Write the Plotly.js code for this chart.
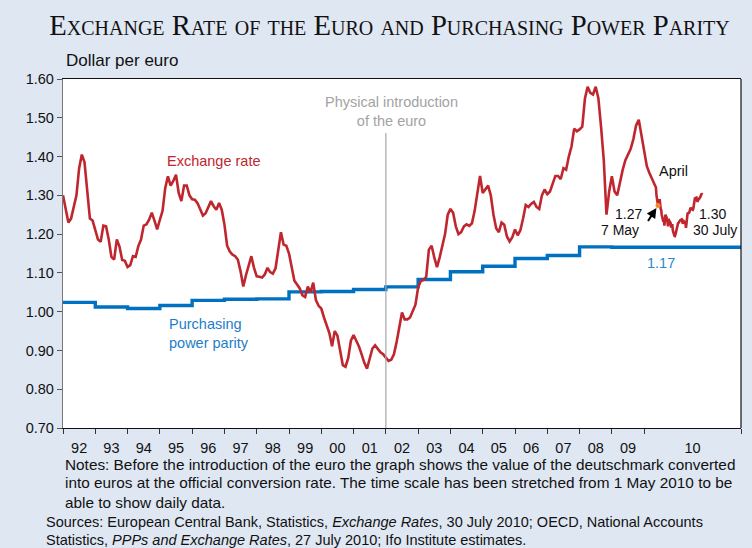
<!DOCTYPE html>
<html><head><meta charset="utf-8">
<script src="https://cdn.plot.ly/plotly-3.0.1.min.js"></script>
<style>html,body{margin:0;padding:0;background:#DFE7F3;}#chart{width:752px;height:548px;}</style>
</head><body><div id="chart"></div>
<script>
// Monthly exchange rate (dollar per euro), Jan 1992 - Apr 2010
const monthlyRate = [
 1.30,1.26,1.23,1.24,1.27,1.30,1.37,1.405,1.385,1.32,1.24,1.235,
 1.212,1.186,1.18,1.222,1.22,1.186,1.141,1.134,1.186,1.168,1.133,1.131,
 1.115,1.12,1.143,1.141,1.169,1.186,1.222,1.225,1.237,1.255,1.235,1.212,
 1.237,1.26,1.319,1.349,1.325,1.337,1.353,1.306,1.285,1.325,1.325,1.30,
 1.29,1.289,1.28,1.265,1.248,1.254,1.272,1.285,1.272,1.263,1.28,1.263,
 1.225,1.17,1.155,1.147,1.143,1.134,1.104,1.065,1.094,1.117,1.143,1.113,
 1.091,1.09,1.088,1.096,1.113,1.102,1.098,1.112,1.16,1.205,1.173,1.17,
 1.15,1.11,1.08,1.07,1.06,1.042,1.038,1.065,1.05,1.075,1.03,1.015,
 1.008,0.985,0.965,0.945,0.911,0.95,0.938,0.90,0.862,0.858,0.88,0.925,
 0.94,0.925,0.91,0.89,0.868,0.853,0.88,0.905,0.913,0.905,0.895,0.89,
 0.88,0.873,0.876,0.89,0.922,0.965,0.998,0.98,0.98,0.985,1.003,1.018,
 1.063,1.079,1.082,1.09,1.16,1.17,1.14,1.115,1.14,1.168,1.20,1.25,
 1.265,1.255,1.22,1.20,1.205,1.22,1.225,1.221,1.228,1.26,1.31,1.35,
 1.306,1.315,1.325,1.30,1.25,1.215,1.205,1.23,1.224,1.194,1.181,1.192,
 1.212,1.197,1.21,1.24,1.275,1.27,1.278,1.283,1.27,1.265,1.30,1.315,
 1.303,1.31,1.33,1.35,1.35,1.342,1.37,1.366,1.40,1.426,1.472,1.465,
 1.47,1.477,1.55,1.58,1.564,1.56,1.58,1.55,1.475,1.39,1.25,1.31,
 1.349,1.31,1.30,1.335,1.365,1.39,1.405,1.42,1.445,1.48,1.495,1.458,
 1.42,1.375,1.357,1.342
];
// Daily exchange rate, May - July 2010 (stretched time scale)
const dailyDates = [
 '2010-05-03','2010-05-04','2010-05-05','2010-05-06','2010-05-07','2010-05-10','2010-05-11','2010-05-12','2010-05-13','2010-05-14',
 '2010-05-17','2010-05-18','2010-05-19','2010-05-20','2010-05-21','2010-05-24','2010-05-25','2010-05-26','2010-05-27','2010-05-28','2010-05-31',
 '2010-06-01','2010-06-02','2010-06-03','2010-06-04','2010-06-07','2010-06-08','2010-06-09','2010-06-10','2010-06-11',
 '2010-06-14','2010-06-15','2010-06-16','2010-06-17','2010-06-18','2010-06-21','2010-06-22','2010-06-23','2010-06-24','2010-06-25',
 '2010-06-28','2010-06-29','2010-06-30',
 '2010-07-01','2010-07-02','2010-07-05','2010-07-06','2010-07-07','2010-07-08','2010-07-09','2010-07-12','2010-07-13','2010-07-14',
 '2010-07-15','2010-07-16','2010-07-19','2010-07-20','2010-07-21','2010-07-22','2010-07-23','2010-07-26','2010-07-27','2010-07-28',
 '2010-07-29','2010-07-30'
];
const dailyRate = [
 1.32,1.30,1.29,1.28,1.274,1.29,1.27,1.265,1.262,1.25,
 1.232,1.24,1.222,1.245,1.25,1.24,1.222,1.22,1.233,1.235,1.228,
 1.217,1.22,1.226,1.21,1.196,1.195,1.198,1.206,1.21,
 1.228,1.229,1.232,1.233,1.236,1.238,1.229,1.227,1.23,1.233,
 1.229,1.216,1.227,
 1.235,1.253,1.255,1.26,1.261,1.268,1.266,1.263,1.266,1.273,
 1.285,1.292,1.294,1.29,1.283,1.288,1.289,1.295,1.298,1.30,
 1.305,1.303
];
// Purchasing power parity, by year (1992 ... 2010)
const pppYears = [1992,1993,1994,1995,1996,1997,1998,1999,2000,2001,2002,2003,2004,2005,2006,2007,2008,2009,2010];
const pppValues = [1.024,1.012,1.008,1.016,1.029,1.032,1.033,1.051,1.052,1.057,1.064,1.083,1.103,1.117,1.137,1.145,1.167,1.166,1.166];
const yearLabels = ['92','93','94','95','96','97','98','99','00','01','02','03','04','05','06','07','08','09','10'];

// time-scale mapping: one unit per year 1992-2009, 2010 stretched (daily data from 1 May)
const STRETCH = (19.80 - (18 + 4/12)) / 90;
function monthPos(i){ return i/12; }
function dayPos(s){ const d = Date.parse(s+'T00:00:00Z'); const may1 = Date.UTC(2010,4,1); return 18 + 4/12 + (d-may1)/864e5*STRETCH; }
function yearStart(y){ return y - 1992; }
const X_END = 21;

const rateX = monthlyRate.map((v,i)=>monthPos(i)).concat(dailyDates.map(dayPos));
const rateY = monthlyRate.concat(dailyRate);

const pppX = pppYears.map(yearStart).concat([X_END]);
const pppY = pppValues.concat([pppValues[pppValues.length-1]]);

const iMay7 = dailyDates.indexOf('2010-05-07');
const iJul30 = dailyDates.indexOf('2010-07-30');
const may7x = dayPos(dailyDates[iMay7]), may7y = dailyRate[iMay7];

const boundaries = pppYears.map(yearStart).concat([X_END]);
const centers = yearLabels.map((l,k)=> k<18 ? k+0.5 : 19.5);

const RED='rgb(192,38,46)', BLUE='rgb(0,112,192)', LBLUE='rgb(40,135,205)';
const F = 'Liberation Sans, Arial, sans-serif';

const traces = [
 {x:pppX, y:pppY, mode:'lines', line:{color:BLUE, width:3.4, shape:'hv'}, hoverinfo:'skip'},
 {x:rateX, y:rateY, mode:'lines', line:{color:RED, width:2.6}, hoverinfo:'skip'},
 {x:[may7x], y:[may7y], mode:'markers', marker:{color:'rgb(240,140,40)', size:5}, hoverinfo:'skip'}
];

function px2x(px){ return (px-63)/678; }
function py2y(py){ return (428-py)/349; }

const NOTE = {family:F, size:15.35, color:'#111'};
const SRC = {family:F, size:14.5, color:'#111'};
const SM = {family:F, size:14, color:'#111'};
const annotations = [
 {text:'Dollar per euro', xref:'paper', yref:'paper', x:px2x(64), y:py2y(60), xanchor:'left', yanchor:'middle', showarrow:false, font:{family:F, size:17, color:'#111'}},
 {text:'Exchange rate', x:4.68, y:1.389, xanchor:'center', yanchor:'middle', showarrow:false, font:{family:F, size:14.5, color:RED}},
 {text:'Physical introduction<br>of the euro', x:10.19, y:1.517, xanchor:'center', yanchor:'middle', showarrow:false, font:{family:F, size:14.5, color:'#A3A3A3'}},
 {text:'Purchasing<br>power parity', x:3.22, y:0.944, xanchor:'left', yanchor:'middle', align:'left', showarrow:false, font:{family:F, size:14.5, color:'rgb(30,125,200)'}},
 {text:pppValues[pppValues.length-1].toFixed(2), x:18.52, y:1.126, xanchor:'center', yanchor:'middle', showarrow:false, font:{family:F, size:14.5, color:LBLUE}},
 {text:'April', x:18.39, y:1.363, xanchor:'left', yanchor:'middle', showarrow:false, font:{family:F, size:14.5, color:'#111'}},
 {text:may7y.toFixed(2), x:(644-63)/32.286, y:1.60-(214.5-79)/388, xanchor:'right', yanchor:'middle', showarrow:false, font:SM},
 {text:'7 May', x:(641-63)/32.286, y:1.60-(230.5-79)/388, xanchor:'right', yanchor:'middle', showarrow:false, font:SM},
 {text:'', x:may7x, y:may7y, ax:-11, ay:17, showarrow:true, arrowhead:2, arrowsize:1, arrowwidth:2, arrowcolor:'#000', standoff:3},
 {text:dailyRate[iJul30].toFixed(2), x:(713-63)/32.286, y:1.60-(214.5-79)/388, xanchor:'center', yanchor:'middle', showarrow:false, font:SM},
 {text:'30 July', x:(715.5-63)/32.286, y:1.60-(230.5-79)/388, xanchor:'center', yanchor:'middle', showarrow:false, font:SM},
 {text:'Notes: Before the introduction of the euro the graph shows the value of the deutschmark converted', xref:'paper', yref:'paper', x:px2x(63), y:py2y(464), xanchor:'left', yanchor:'middle', showarrow:false, font:NOTE},
 {text:'into euros at the official conversion rate. The time scale has been stretched from 1 May 2010 to be', xref:'paper', yref:'paper', x:px2x(63), y:py2y(483), xanchor:'left', yanchor:'middle', showarrow:false, font:NOTE},
 {text:'able to show daily data.', xref:'paper', yref:'paper', x:px2x(63), y:py2y(502), xanchor:'left', yanchor:'middle', showarrow:false, font:NOTE},
 {text:'Sources: European Central Bank, Statistics, <i>Exchange Rates</i>, 30 July 2010; OECD, National Accounts', xref:'paper', yref:'paper', x:px2x(44), y:py2y(522), xanchor:'left', yanchor:'middle', showarrow:false, font:SRC},
 {text:'Statistics, <i>PPPs and Exchange Rates</i>, 27 July 2010; Ifo Institute estimates.', xref:'paper', yref:'paper', x:px2x(44), y:py2y(540), xanchor:'left', yanchor:'middle', showarrow:false, font:SRC}
];

const shapes = [
 {type:'line', x0:10, x1:10, y0:0.70, y1:1.461, line:{color:'#A8A8A8', width:1.2}},
 {type:'line', xref:'paper', yref:'paper', x0:1, x1:1, y0:0, y1:1, line:{color:'#111', width:1.2}}
];

const layout = {
 width:752, height:548,
 margin:{l:63, r:11, t:79, b:120},
 paper_bgcolor:'#DFE7F3', plot_bgcolor:'#FFFFFF',
 showlegend:false,
 title:{text:'Exchange Rate of the Euro and Purchasing Power Parity', xref:'container', yref:'container', x:0.518, xanchor:'center', y:0.955, yanchor:'middle',
   font:{family:'Liberation Serif, Times New Roman, serif', size:28.7, color:'#111', variant:'small-caps'}},
 xaxis:{range:[0,X_END], showgrid:false, zeroline:false, showline:true, linecolor:'#111', linewidth:1.2, mirror:true,
   tickmode:'array', tickvals:centers, ticktext:yearLabels, ticks:'outside', ticklen:6, tickcolor:'rgba(0,0,0,0)',
   tickfont:{family:F, size:14.5, color:'#111'},
   minor:{tickmode:'array', tickvals:boundaries, ticks:'outside', ticklen:5, tickcolor:'#333', tickwidth:1, showgrid:false}},
 yaxis:{range:[0.70,1.60], showgrid:false, zeroline:false, showline:true, linecolor:'#777', linewidth:1.2,
   tickmode:'array', tickvals:[0.7,0.8,0.9,1.0,1.1,1.2,1.3,1.4,1.5,1.6], tickformat:'.2f', ticks:'outside', ticklen:5, tickcolor:'#555',
   tickfont:{family:F, size:14.5, color:'#111'}},
 annotations:annotations,
 shapes:shapes
};
Plotly.newPlot('chart', traces, layout, {displayModeBar:false, staticPlot:true});
</script></body></html>
